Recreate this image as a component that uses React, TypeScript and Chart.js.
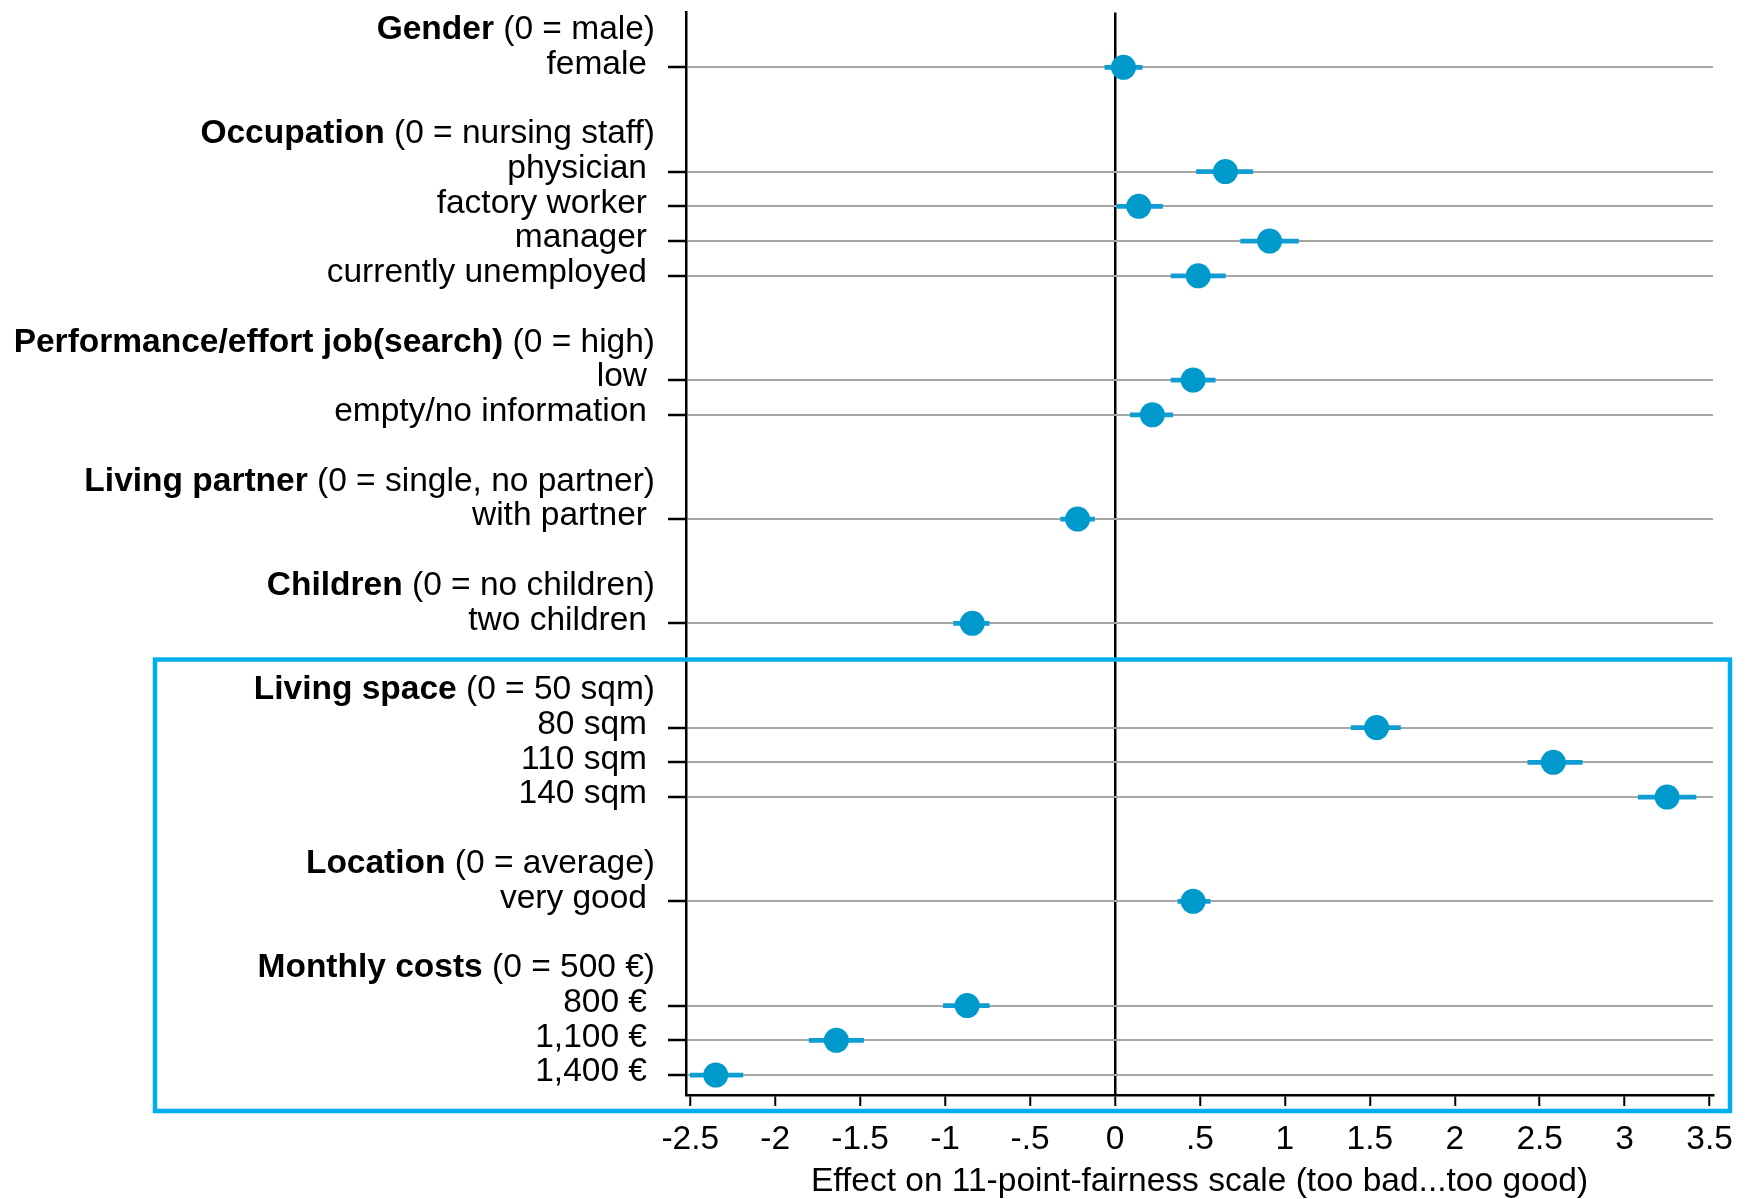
import React, { useEffect, useRef } from "react";
import { Chart, registerables } from "chart.js";

Chart.register(...registerables);

// ---- data ----
const categories = [
  "female",
  "physician",
  "factory worker",
  "manager",
  "currently unemployed",
  "low",
  "empty/no information",
  "with partner",
  "two children",
  "80 sqm",
  "110 sqm",
  "140 sqm",
  "very good",
  "800 €",
  "1,100 €",
  "1,400 €",
];
const rowIndex = [0, 3, 4, 5, 6, 9, 10, 13, 16, 19, 20, 21, 24, 27, 28, 29];
const estimates = [0.05, 0.65, 0.14, 0.91, 0.49, 0.46, 0.22, -0.22, -0.84, 1.54, 2.58, 3.25, 0.46, -0.87, -1.64, -2.35];
const ciLower = [-0.06, 0.48, 0.01, 0.74, 0.33, 0.33, 0.09, -0.32, -0.95, 1.39, 2.43, 3.08, 0.37, -1.01, -1.8, -2.5];
const ciUpper = [0.16, 0.81, 0.28, 1.08, 0.65, 0.59, 0.34, -0.12, -0.74, 1.68, 2.75, 3.42, 0.56, -0.74, -1.48, -2.19];

const groupTitles = [
  "Gender",
  "Occupation",
  "Performance/effort job(search)",
  "Living partner",
  "Children",
  "Living space",
  "Location",
  "Monthly costs",
];
const groupRefs = [
  "(0 = male)",
  "(0 = nursing staff)",
  "(0 = high)",
  "(0 = single, no partner)",
  "(0 = no children)",
  "(0 = 50 sqm)",
  "(0 = average)",
  "(0 = 500 €)",
];
const groupRowIndex = [-1, 2, 8, 12, 15, 18, 23, 26];
const highlightFromRow = 17;

const xTicks = [-2.5, -2, -1.5, -1, -0.5, 0, 0.5, 1, 1.5, 2, 2.5, 3, 3.5];
const xTitle = "Effect on 11-point-fairness scale (too bad...too good)";

const FAM = "'Liberation Sans', Arial, Helvetica, sans-serif";
const FS = 33.5;

const fmtTick = (v: number) => {
  if (v === 0) return "0";
  let s = Math.abs(v).toString();
  if (s.startsWith("0")) s = s.slice(1);
  return (v < 0 ? "-" : "") + s;
};

const headerPlugin = {
  id: "headers",
  afterDraw(chart: any) {
    const { ctx, chartArea } = chart;
    const y = chart.scales.y;
    ctx.save();
    ctx.textBaseline = "middle";
    ctx.textAlign = "right";
    ctx.fillStyle = "#000";
    const rightX = chartArea.left - 31;
    for (let i = 0; i < groupTitles.length; i++) {
      const py = y.getPixelForValue(groupRowIndex[i]) - 3;
      ctx.font = `${FS}px ${FAM}`;
      const ref = " " + groupRefs[i];
      const w = ctx.measureText(ref).width;
      ctx.fillText(ref, rightX, py);
      ctx.font = `bold ${FS}px ${FAM}`;
      ctx.fillText(groupTitles[i], rightX - w, py);
    }
    // highlight box
    const top = y.getPixelForValue(highlightFromRow) + 1.5;
    const bottom = chartArea.bottom + 16;
    ctx.strokeStyle = "#00aeef";
    ctx.lineWidth = 4.5;
    ctx.strokeRect(155, top, 1730 - 155, bottom - top);
    ctx.restore();
  },
};

export default function App() {
  const ref = useRef<HTMLCanvasElement>(null);
  useEffect(() => {
    if (!ref.current) return;
    const chart = new Chart(ref.current, {
      type: "scatter",
      data: {
        datasets: [
          {
            type: "scatter",
            data: estimates.map((v, i) => ({ x: v, y: rowIndex[i] })),
            pointRadius: 12.5,
            pointBackgroundColor: "#0099cc",
            pointBorderWidth: 0,
            pointHoverRadius: 12.5,
          } as any,
          {
            type: "bar",
            indexAxis: "y",
            data: ciLower.map((lo, i) => ({ x: [lo, ciUpper[i]], y: rowIndex[i] })),
            backgroundColor: "#0e9ed4",
            borderWidth: 0,
            barThickness: 4,
            grouped: false,
          } as any,
        ],
      },
      options: {
        responsive: false,
        animation: false,
        devicePixelRatio: 1,
        events: [],
        layout: { padding: { top: 9, right: 37, left: 0, bottom: 0 } },
        plugins: { legend: { display: false }, tooltip: { enabled: false } },
        font: { family: FAM, size: FS },
        scales: {
          x: {
            type: "linear",
            min: -2.525,
            max: 3.52,
            offset: false,
            afterBuildTicks: (s: any) => {
              s.ticks = xTicks.map((v) => ({ value: v }));
            },
            afterFit: (s: any) => {
              s.height = 104;
              s.paddingLeft = 0;
              s.paddingRight = 0;
            },
            ticks: {
              autoSkip: false,
              maxRotation: 0,
              padding: 14,
              color: "#000",
              font: { family: FAM, size: FS },
              callback: (v: any) => fmtTick(Number(v)),
            },
            grid: {
              offset: false,
              color: (c: any) => (c.tick && c.tick.value === 0 ? "#000" : "rgba(0,0,0,0)"),
              lineWidth: 2.5,
              tickColor: "#000",
              tickWidth: 2,
              tickLength: 11,
              drawTicks: true,
            },
            border: { display: true, color: "#000", width: 2.5 },
            title: {
              display: true,
              text: xTitle,
              color: "#000",
              font: { family: FAM, size: FS },
              padding: { top: 0, bottom: -3 },
            },
          },
          y: {
            type: "linear",
            reverse: true,
            min: -1.578,
            max: 29.574,
            offset: false,
            afterBuildTicks: (s: any) => {
              s.ticks = rowIndex.map((v) => ({ value: v }));
            },
            afterFit: (s: any) => {
              s.width = 686;
              s.paddingTop = 0;
              s.paddingBottom = 0;
            },
            ticks: {
              autoSkip: false,
              padding: 21,
              labelOffset: -3,
              color: "#000",
              font: { family: FAM, size: FS },
              callback: (_v: any, i: number) => categories[i],
            },
            grid: {
              offset: false,
              color: "#a6a6a6",
              lineWidth: 2,
              tickColor: "#000",
              tickWidth: 2.5,
              tickLength: 18,
              drawTicks: true,
            },
            border: { display: true, color: "#000", width: 2.5 },
          },
        },
      } as any,
      plugins: [headerPlugin],
    });
    return () => chart.destroy();
  }, []);
  return (
    <div style={{ position: "absolute", left: 0, top: 0, width: 1750, height: 1199, background: "#fff" }}>
      <canvas ref={ref} width={1750} height={1199} style={{ display: "block" }} />
    </div>
  );
}
